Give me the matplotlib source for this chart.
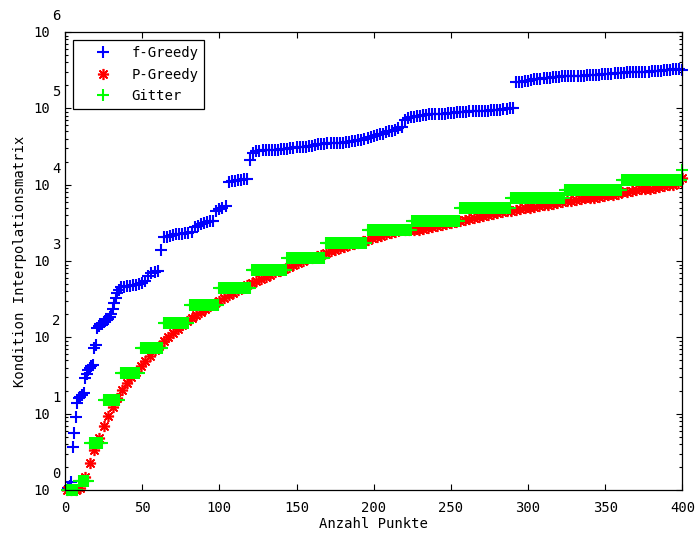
import matplotlib
matplotlib.use("Agg")
import matplotlib.pyplot as plt
import matplotlib.ticker as mticker
from matplotlib.transforms import offset_copy
import numpy as np

plt.rcParams["font.family"] = ["DejaVu Sans Mono"]
plt.rcParams["font.size"] = 10

# f-Greedy: number of points and log10 of the condition number
blue_n = list(range(1, 36)) + list(range(36, 401, 2))
blue_log = [
    0.00, 0.02, 0.05, 0.10, 0.56, 0.75, 0.96, 1.14, 1.20, 1.22,
    1.25, 1.27, 1.47, 1.52, 1.57, 1.60, 1.62, 1.64, 1.86, 1.90,
    2.12, 2.15, 2.17, 2.18, 2.20, 2.22, 2.23, 2.24, 2.27, 2.31,
    2.37, 2.45, 2.52, 2.58, 2.62,
    # 36 .. 400 in steps of 2
    2.66, 2.66, 2.67, 2.67, 2.68, 2.69, 2.70, 2.71, 2.74,
    2.80, 2.84, 2.86, 2.87,
    3.15,
    3.31, 3.32, 3.33, 3.34,
    3.35, 3.36, 3.36, 3.37, 3.37, 3.38,
    3.44, 3.46,
    3.49, 3.50, 3.51, 3.52, 3.53,
    3.66, 3.68, 3.70, 3.72,
    4.04, 4.05, 4.05, 4.06, 4.06, 4.07, 4.08,
    4.32,
    4.42,
    4.44, 4.44, 4.45, 4.45, 4.45, 4.46, 4.46, 4.46, 4.47, 4.47,
    4.47, 4.48, 4.48, 4.49, 4.49, 4.50, 4.50, 4.51, 4.51, 4.52,
    4.53, 4.53, 4.53, 4.54, 4.54, 4.54, 4.55, 4.55, 4.55, 4.56,
    4.56, 4.57, 4.57, 4.58, 4.58,
    4.60, 4.61, 4.63, 4.64, 4.65, 4.66, 4.67, 4.69, 4.70, 4.71,
    4.72, 4.74, 4.76,
    4.85,
    4.88, 4.89, 4.89, 4.90, 4.90, 4.91, 4.91,
    4.92, 4.92, 4.92, 4.93, 4.93, 4.93, 4.94, 4.94, 4.94, 4.95,
    4.95, 4.95, 4.95, 4.96, 4.96, 4.96, 4.96, 4.97, 4.97, 4.97,
    4.98, 4.98, 4.98, 4.98, 4.99, 4.99, 5.00, 5.01,
    5.34,
    5.35, 5.35, 5.36, 5.36, 5.37,
    5.38, 5.39, 5.39, 5.40, 5.40, 5.40, 5.41, 5.41, 5.41, 5.42,
    5.42, 5.42,
    5.42, 5.43, 5.43, 5.43, 5.43, 5.44, 5.44, 5.44, 5.44, 5.44,
    5.45, 5.45, 5.45, 5.45,
    5.46, 5.46, 5.46, 5.46, 5.47, 5.47, 5.47, 5.47, 5.48, 5.48,
    5.48, 5.48, 5.49, 5.49, 5.49, 5.49, 5.50, 5.50, 5.50, 5.51,
    5.51, 5.52,
    5.50,
]

# P-Greedy
red_n = list(range(1, 401, 3))
red_log = [
    0.00, 0.00, 0.00, 0.02, 0.17, 0.35, 0.53, 0.68, 0.84, 0.97,
    1.09, 1.21, 1.31, 1.40, 1.48, 1.55, 1.62, 1.69, 1.76, 1.83,
    1.89, 1.95, 2.01, 2.06, 2.11, 2.16, 2.21, 2.25, 2.29, 2.33,
    2.37, 2.41, 2.45, 2.48, 2.52, 2.55, 2.58, 2.62, 2.65, 2.68,
    2.71, 2.74, 2.77, 2.79, 2.82, 2.85, 2.87, 2.90, 2.92, 2.95,
    2.97, 3.00, 3.02, 3.04, 3.06, 3.08, 3.11, 3.13, 3.15, 3.17,
    3.19, 3.21, 3.22, 3.24, 3.26, 3.28, 3.30, 3.32, 3.33, 3.35,
    3.37, 3.38, 3.40, 3.40, 3.40, 3.41, 3.41, 3.42, 3.43, 3.44,
    3.46, 3.47, 3.48, 3.50, 3.51, 3.53, 3.54, 3.55, 3.57, 3.58,
    3.59, 3.60, 3.61, 3.63, 3.64, 3.65, 3.66, 3.67, 3.68, 3.69,
    3.70, 3.71, 3.72, 3.73, 3.74, 3.75, 3.76, 3.77, 3.78, 3.79,
    3.80, 3.81, 3.82, 3.82, 3.83, 3.84, 3.85, 3.86, 3.87, 3.88,
    3.90, 3.91, 3.92, 3.93, 3.94, 3.94, 3.95, 3.96, 3.97, 3.98,
    3.99, 4.00, 4.02, 4.09,
]

# Gitter: value stays constant from each start up to the next start
grid_start = [1, 9, 16, 25, 36, 49, 64, 81, 100, 121, 144, 169, 196, 225,
              256, 289, 324, 361, 400]
grid_log = [0.00, 0.12, 0.62, 1.18, 1.53, 1.86, 2.19, 2.42, 2.65, 2.88,
            3.04, 3.24, 3.41, 3.53, 3.70, 3.83, 3.93, 4.06, 4.19]

run_len = np.diff(grid_start + [401])
green_n = np.arange(1, 401)
green_log = np.repeat(grid_log, run_len)

fig = plt.figure(figsize=(6.95, 5.35), dpi=100)
ax = fig.add_axes([0.0935, 0.0841, 0.8885, 0.856])

ax.semilogy(blue_n, 10 ** np.array(blue_log), "+", color=(0, 0, 1),
            ms=8, mew=1.5, label="f-Greedy", clip_on=False)
ax.semilogy(red_n, 10 ** np.array(red_log), marker=(8, 2, 0), ls="none",
            color=(1, 0, 0), ms=8, mew=1.2, label="P-Greedy", clip_on=False)
ax.semilogy(green_n, 10 ** green_log, "+", color=(0, 1, 0),
            ms=8, mew=1.5, label="Gitter", clip_on=False)

ax.set_xlim(0, 400)
ax.set_ylim(1, 1e6)
ax.xaxis.set_major_locator(mticker.MultipleLocator(50))
ax.yaxis.set_major_locator(mticker.LogLocator(base=10, numticks=10))
ax.yaxis.set_minor_locator(mticker.LogLocator(base=10, subs=np.arange(2, 10), numticks=20))
ax.yaxis.set_major_formatter(mticker.NullFormatter())
ax.yaxis.set_minor_formatter(mticker.NullFormatter())
ax.tick_params(which="both", direction="in", top=True, right=True, width=0.8)
ax.tick_params(which="major", length=4.5)
ax.tick_params(which="minor", length=2.5)
ax.tick_params(axis="x", pad=8)
for sp in ax.spines.values():
    sp.set_linewidth(0.9)

# old style tick labels: 10 with the exponent set up and to the right
tr = ax.get_yaxis_transform()
for d in range(7):
    ax.text(0, 10 ** d, "10", ha="right", va="center",
            transform=offset_copy(tr, fig=fig, x=-15, y=-1, units="dots"))
    ax.text(0, 10 ** d, str(d), ha="left", va="center",
            transform=offset_copy(tr, fig=fig, x=-13, y=16, units="dots"))

ax.set_xlabel("Anzahl Punkte")
ax.set_ylabel("Kondition Interpolationsmatrix")
ax.xaxis.set_label_coords(0.5, -0.058)
ax.yaxis.set_label_coords(-0.062, 0.5)

leg = ax.legend(loc="upper left", borderaxespad=0.6, handlelength=3.5,
                handletextpad=0.3, labelspacing=0.55, borderpad=0.4,
                fancybox=False, edgecolor="k", framealpha=1, numpoints=1)
leg.get_frame().set_linewidth(0.9)

fig.savefig("out.png", dpi=100)
